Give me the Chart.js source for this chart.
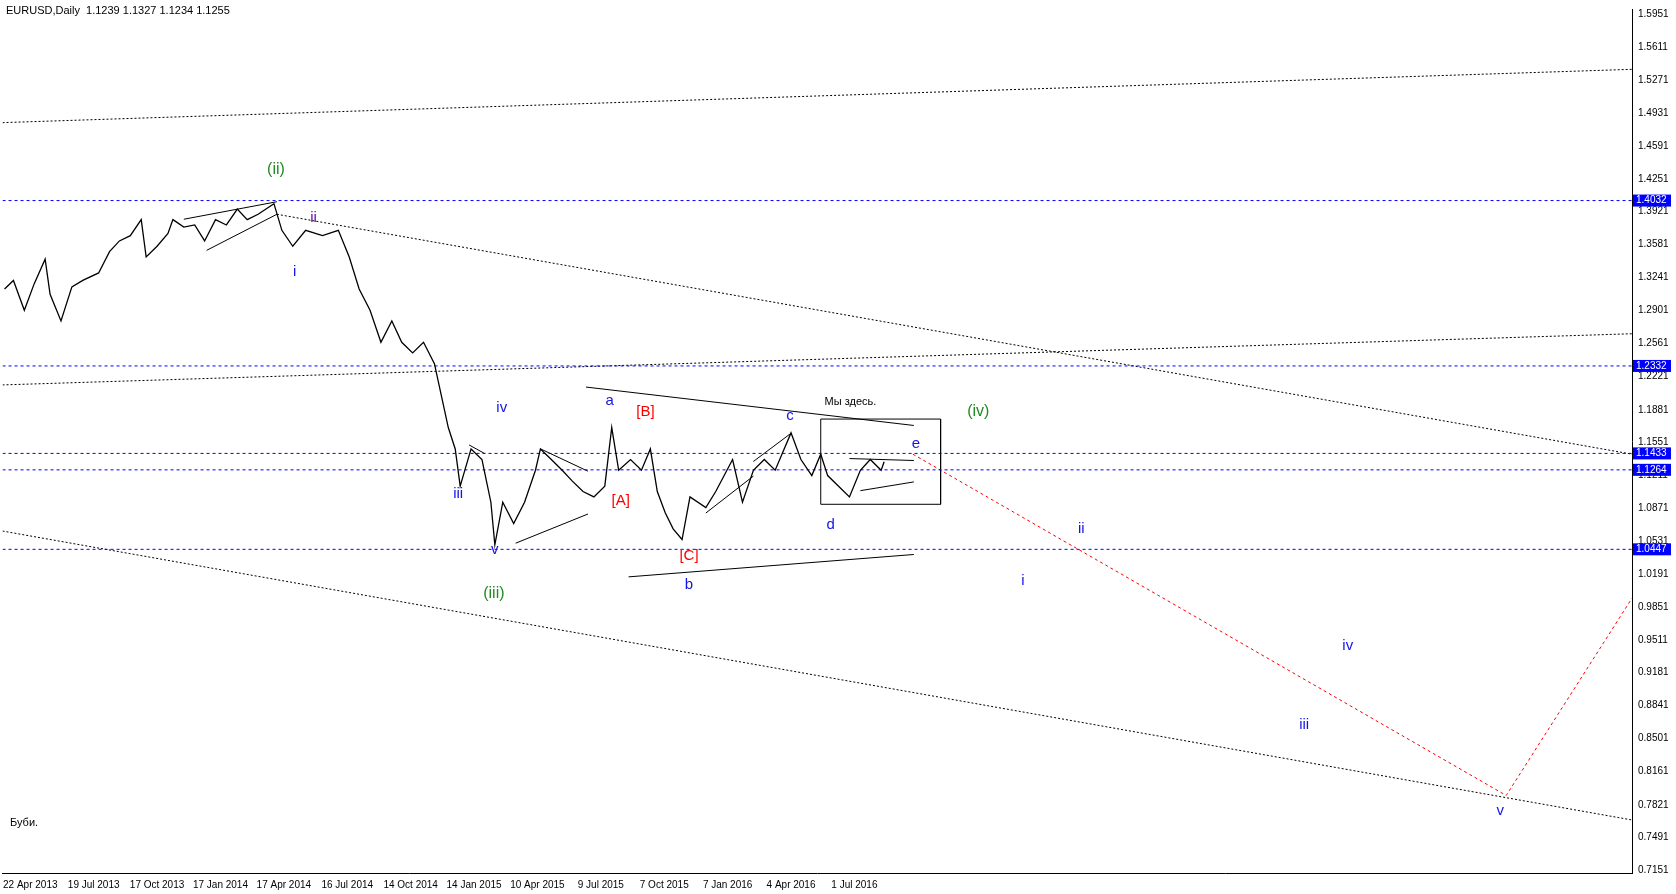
<!DOCTYPE html>
<html>
<head>
<meta charset="utf-8">
<script src="https://cdn.jsdelivr.net/npm/chart.js@4.4.0/dist/chart.umd.min.js"></script>
<style>
  html, body { margin: 0; padding: 0; background: #fff; }
  #wrap { width: 1676px; height: 894px; }
</style>
</head>
<body>
<div id="wrap"><canvas id="grafico"></canvas></div>
<script>
// Barras (índice de dia) e preços de fechamento aproximados
const barras = [-26,-17,-6,4,15,20,31,42,53,69,80,90,101,112,117,128,139,144,155,166,176,187,198,209,219,230,246,254,265,278,295,311,322,332,343,354,365,375,386,397,408,415,422,429,434,445,456,465,469,477,488,499,510,515,526,537,547,558,569,580,587,594,606,617,626,633,641,649,658,666,682,692,709,719,730,741,752,768,778,789,798,805,816,827,838,848,859,862];
const precos = [1.3123,1.3211,1.2904,1.3178,1.3430,1.3069,1.2795,1.3145,1.3211,1.3288,1.3507,1.3617,1.3671,1.3836,1.3452,1.3562,1.3693,1.3836,1.3759,1.3781,1.3617,1.3836,1.3781,1.3945,1.3836,1.3891,1.4000,1.3726,1.3562,1.3726,1.3671,1.3726,1.3452,1.3123,1.2904,1.2575,1.2795,1.2575,1.2466,1.2575,1.2356,1.2027,1.1699,1.1479,1.1096,1.1479,1.1370,1.0931,1.0493,1.0931,1.0712,1.0931,1.1260,1.1479,1.1370,1.1260,1.1151,1.1041,1.0986,1.1096,1.1699,1.1260,1.1370,1.1260,1.1479,1.1041,1.0822,1.0657,1.0548,1.0986,1.0877,1.1041,1.1370,1.0931,1.1260,1.1370,1.1260,1.1644,1.1370,1.1205,1.1425,1.1205,1.1096,1.0986,1.1260,1.1370,1.1260,1.1348];

// Rótulos do eixo X (a cada 64 barras)
const rotulosX = ['22 Apr 2013','19 Jul 2013','17 Oct 2013','17 Jan 2014','17 Apr 2014','16 Jul 2014','14 Oct 2014','14 Jan 2015','10 Apr 2015','9 Jul 2015','7 Oct 2015','7 Jan 2016','4 Apr 2016','1 Jul 2016'];
const ticksY = [0.7151,0.7491,0.7821,0.8161,0.8501,0.8841,0.9181,0.9511,0.9851,1.0191,1.0531,1.0871,1.1211,1.1551,1.1881,1.2221,1.2561,1.2901,1.3241,1.3581,1.3921,1.4251,1.4591,1.4931,1.5271,1.5611,1.5951];

// Níveis horizontais
const niveis = [1.4032, 1.2332, 1.1433, 1.1264, 1.0447];

// Linhas pontilhadas (canal) e linhas sólidas: [x1, y1, x2, y2]
const linhasPontilhadas = [
  [-28,1.4833,1617,1.5381],
  [-28,1.2137,1617,1.2663],
  [249,1.3891,1617,1.1425],
  [-28,1.0635,1617,0.7665]
];
const linhasSolidas = [
  [561,1.2115,892,1.1720],
  [604,1.0164,892,1.0394],
  [827,1.1380,892,1.1360],
  [838,1.1050,892,1.1140],
  [155,1.3840,249,1.4020],
  [178,1.3520,249,1.3891],
  [443,1.1520,459,1.1430],
  [490,1.0510,563,1.0810],
  [515,1.1480,563,1.1250],
  [682,1.0820,730,1.1200],
  [730,1.1350,768,1.1640]
];
const caixa = [798,1.1786,919,1.0910];
const vermelhoX = [891,1490,1617];
const vermelhoY = [1.1425,0.7917,0.9945];

// Marcações de ondas: [texto, cor, x, preço, tamanho]
const ondas = [
  ['(ii)','#228B22',248,1.4350,16],
  ['ii','#6a0dad',286,1.3850,15],
  ['i','#1414e6',267,1.3300,15],
  ['iv','#1414e6',476,1.1900,15],
  ['iii','#1414e6',432,1.1020,15],
  ['v','#1414e6',469,1.0440,15],
  ['(iii)','#228B22',468,0.9990,16],
  ['a','#1414e6',585,1.1970,15],
  ['[B]','#ff0000',621,1.1860,15],
  ['[A]','#ff0000',596,1.0950,15],
  ['[C]','#ff0000',665,1.0380,15],
  ['b','#1414e6',665,1.0080,15],
  ['c','#1414e6',767,1.1820,15],
  ['d','#1414e6',808,1.0700,15],
  ['e','#1414e6',894,1.1530,15],
  ['(iv)','#228B22',957,1.1860,16],
  ['ii','#1414e6',1061,1.0660,15],
  ['i','#1414e6',1002,1.0120,15],
  ['iv','#1414e6',1330,0.9450,15],
  ['iii','#1414e6',1286,0.8640,15],
  ['v','#1414e6',1484,0.7760,15]
];

function seg(l, cor, tracejado, larg) {
  return {
    data: [{x: l[0], y: l[1]}, {x: l[2], y: l[3]}],
    borderColor: cor, borderWidth: larg || 1, borderDash: tracejado || [],
    pointRadius: 0, fill: false, tension: 0
  };
}

const datasets = [];
datasets.push({
  data: barras.map((b, i) => ({x: b, y: precos[i]})),
  borderColor: '#000', borderWidth: 1.3, pointRadius: 0, tension: 0
});
niveis.forEach(n => datasets.push(seg([-28,n,1617,n], '#0000ff', [3,3])));
linhasPontilhadas.forEach(l => datasets.push(seg(l, '#000', [2,2])));
linhasSolidas.forEach(l => datasets.push(seg(l, '#000')));
const c = caixa;
datasets.push({
  data: [{x:c[0],y:c[1]},{x:c[2],y:c[1]},{x:c[2],y:c[3]},{x:c[0],y:c[3]},{x:c[0],y:c[1]}],
  borderColor: '#000', borderWidth: 1, pointRadius: 0, tension: 0
});
datasets.push({
  data: vermelhoX.map((x, i) => ({x: x, y: vermelhoY[i]})),
  borderColor: '#ff0000', borderWidth: 1, borderDash: [3,3], pointRadius: 0, tension: 0
});

const textos = {
  id: 'textos',
  afterDatasetsDraw(chart) {
    const ctx = chart.ctx, sx = chart.scales.x, sy = chart.scales.y;
    ctx.save();
    ctx.textAlign = 'center';
    ctx.textBaseline = 'middle';
    ondas.forEach(o => {
      ctx.fillStyle = o[1];
      ctx.font = o[4] + 'px "Liberation Sans", Arial';
      ctx.fillText(o[0], sx.getPixelForValue(o[2]), sy.getPixelForValue(o[3]));
    });
    ctx.fillStyle = '#000';
    ctx.font = '11px "Liberation Sans", Arial';
    ctx.fillText('Мы здесь.', sx.getPixelForValue(828), sy.getPixelForValue(1.1960));
    ctx.textAlign = 'left';
    ctx.fillText('Буби.', 10, sy.getPixelForValue(0.7632));
    ctx.fillText('EURUSD,Daily  1.1239 1.1327 1.1234 1.1255', 6, 11);
    // caixas dos níveis no eixo
    ctx.font = '10px "Liberation Sans", Arial';
    niveis.forEach(n => {
      const y = sy.getPixelForValue(n);
      ctx.fillStyle = '#0000ff';
      ctx.fillRect(chart.chartArea.right + 1, y - 6, 38, 12);
      ctx.fillStyle = '#fff';
      ctx.fillText(n.toFixed(4), chart.chartArea.right + 4, y);
    });
    ctx.restore();
  }
};

new Chart(document.getElementById('grafico'), {
  type: 'line',
  data: { datasets: datasets },
  options: {
    responsive: true,
    maintainAspectRatio: false,
    animation: false,
    layout: { padding: { top: 4, left: 2, right: 4, bottom: 0 } },
    plugins: { legend: { display: false }, tooltip: { enabled: false } },
    scales: {
      x: {
        type: 'linear', min: -28, max: 1617,
        afterBuildTicks: s => { s.ticks = rotulosX.map((_, i) => ({value: i * 64})); },
        ticks: {
          autoSkip: false, maxRotation: 0, color: '#000',
          font: { size: 10, family: '"Liberation Sans", Arial' },
          callback: v => rotulosX[Math.round(v / 64)]
        },
        grid: { display: false, drawTicks: true, tickLength: 3 },
        border: { color: '#000' }
      },
      y: {
        position: 'right', min: 0.7120, max: 1.6001,
        afterBuildTicks: s => { s.ticks = ticksY.map(v => ({value: v})); },
        afterFit: s => { s.width = 40; },
        ticks: {
          autoSkip: false, color: '#000', padding: 3,
          font: { size: 10, family: '"Liberation Sans", Arial' },
          callback: v => v.toFixed(4)
        },
        grid: { display: false, drawTicks: true, tickLength: 3 },
        border: { color: '#000' }
      }
    }
  },
  plugins: [textos]
});
</script>
</body>
</html>
